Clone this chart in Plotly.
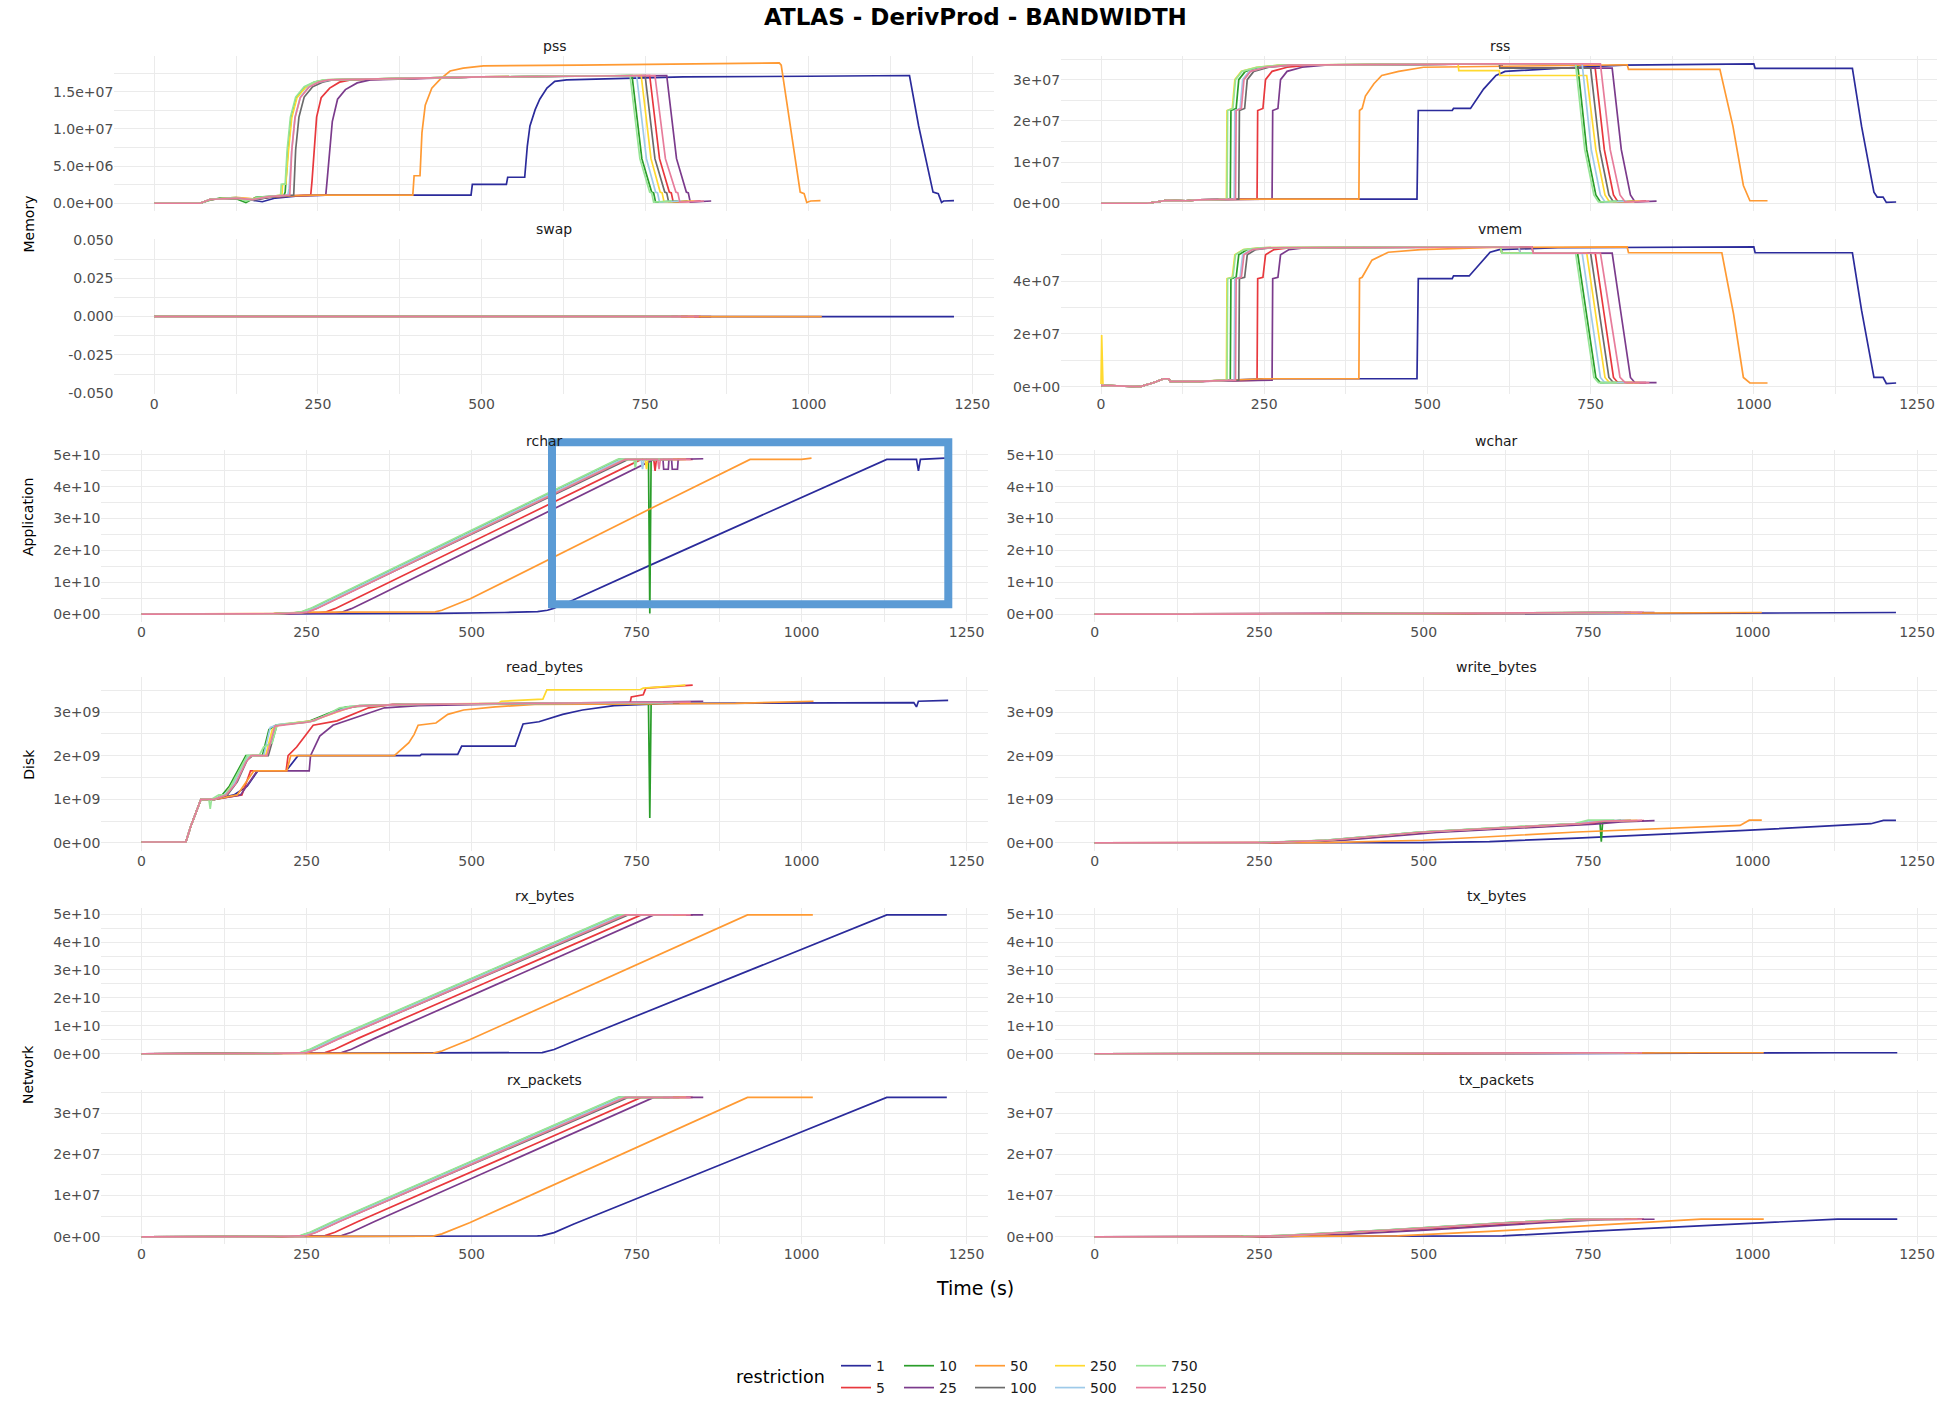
import plotly.graph_objects as go

W, H = 1937, 1404
Y_SCALE = 1.0055  # vertical calibration of pixel geometry

# ---------------- data ----------------
RESTRICTION = [1, 5, 10, 25, 50, 100, 250, 500, 750, 1250]
COLORS = ["#2B2B9B", "#E8383D", "#2A9D2A", "#7B3B8C", "#FF9A33",
          "#6B6B6B", "#FFD92F", "#9ECAE9", "#97E597", "#E77C9B"]
LEGEND_ROW = [1, 2, 1, 2, 1, 2, 1, 2, 1, 2]
LEGEND_COL_W = [18, 18, 26, 26, 35, 35, 36, 36, 36, 36]

X_TICKS = [0, 250, 500, 750, 1000, 1250]
X_MINOR = [125, 375, 625, 875, 1125]

# pss (x 1e6)
PSS = {
    1: [(0, 0), (70, 0), (85, 0.5), (100, 0.6), (125, 0.7), (150, 0.4), (165, 0.2), (185, 0.7), (220, 1.0), (260, 1.1),
        (484, 1.1), (486, 2.55), (538, 2.55), (540, 3.5), (566, 3.5), (570, 7.7), (574, 10.4), (582, 12.6), (589, 14.0),
        (600, 15.5), (612, 16.4), (630, 16.6), (707, 16.8), (808, 17.0), (1000, 17.1), (1150, 17.2), (1154, 17.2),
        (1168, 10.4), (1182, 5.0), (1190, 1.5), (1198, 1.3), (1203, 0.1), (1206, 0.3), (1222, 0.35)],
    5: [(0, 0), (70, 0), (85, 0.5), (100, 0.6), (125, 0.7), (150, 0.5), (175, 0.8), (210, 1.0), (239, 1.1), (241, 3.0),
        (244, 7.2), (248, 11.6), (255, 14.2), (268, 15.5), (283, 16.3), (300, 16.6), (500, 17.0), (700, 17.15),
        (757, 17.2), (772, 6.0), (787, 1.5), (790, 1.4), (793, 0.15), (835, 0.3)],
    10: [(0, 0), (70, 0), (85, 0.4), (100, 0.7), (125, 0.6), (140, 0.1), (155, 0.8), (185, 1.0), (198, 1.05), (200, 1.5),
         (204, 7.0), (209, 11.5), (217, 14.2), (230, 15.6), (245, 16.3), (262, 16.6), (500, 17.0), (700, 17.15),
         (730, 17.2), (745, 6.0), (760, 1.5), (763, 1.4), (766, 0.15), (800, 0.3)],
    25: [(0, 0), (70, 0), (85, 0.5), (100, 0.6), (125, 0.7), (150, 0.4), (175, 0.8), (210, 1.0), (262, 1.1), (264, 3.0),
         (268, 7.2), (272, 11.0), (280, 14.0), (292, 15.3), (310, 16.2), (330, 16.6), (500, 17.0), (700, 17.15),
         (783, 17.2), (798, 6.0), (813, 1.5), (816, 1.4), (819, 0.15), (851, 0.3)],
    50: [(0, 0), (70, 0), (85, 0.5), (100, 0.6), (125, 0.8), (150, 0.6), (170, 0.8), (200, 1.0), (250, 1.1), (395, 1.1),
         (397, 3.7), (406, 3.7), (409, 9.5), (414, 13.2), (424, 15.5), (437, 16.7), (452, 17.8), (472, 18.2),
         (503, 18.5), (650, 18.6), (808, 18.8), (955, 18.9), (958, 18.6), (973, 9.5), (987, 1.5), (993, 1.3),
         (997, 0.1), (1003, 0.3), (1018, 0.35)],
    100: [(0, 0), (70, 0), (85, 0.5), (100, 0.6), (125, 0.7), (150, 0.4), (175, 0.8), (205, 1.05), (213, 1.1),
          (216, 7.2), (221, 11.6), (229, 14.3), (242, 15.7), (257, 16.3), (272, 16.6), (500, 17.0), (700, 17.15),
          (750, 17.2), (765, 6.0), (780, 1.5), (783, 1.4), (786, 0.15), (815, 0.3)],
    250: [(0, 0), (70, 0), (85, 0.5), (100, 0.6), (125, 0.7), (150, 0.6), (175, 0.9), (190, 1.05), (195, 1.1),
          (196, 2.5), (201, 2.6), (205, 7.0), (210, 11.5), (218, 14.2), (231, 15.6), (246, 16.3), (262, 16.6),
          (500, 17.0), (700, 17.15), (744, 17.2), (759, 6.0), (773, 1.5), (776, 1.4), (779, 0.15), (825, 0.3)],
    500: [(0, 0), (70, 0), (85, 0.5), (100, 0.6), (125, 0.7), (150, 0.5), (175, 0.9), (200, 1.05), (204, 1.1),
          (206, 2.0), (210, 7.2), (215, 11.6), (223, 14.3), (236, 15.7), (251, 16.3), (268, 16.6), (500, 17.0),
          (700, 17.15), (737, 17.2), (752, 6.0), (766, 1.5), (769, 1.4), (772, 0.15), (805, 0.3)],
    750: [(0, 0), (70, 0), (85, 0.5), (100, 0.6), (125, 0.8), (140, 0.3), (160, 0.8), (185, 1.0), (193, 1.05),
          (194, 2.55), (200, 2.6), (203, 7.2), (208, 11.6), (216, 14.3), (229, 15.7), (244, 16.3), (259, 16.6),
          (500, 17.0), (700, 17.15), (727, 17.2), (742, 6.0), (757, 1.5), (760, 1.4), (763, 0.15), (790, 0.3)],
    1250: [(0, 0), (70, 0), (85, 0.5), (100, 0.6), (125, 0.7), (150, 0.5), (175, 0.9), (200, 1.05), (207, 1.1),
           (210, 7.0), (215, 11.5), (223, 14.2), (236, 15.6), (251, 16.3), (266, 16.6), (500, 17.0), (700, 17.15),
           (765, 17.2), (781, 6.0), (797, 1.5), (800, 1.4), (803, 0.15), (840, 0.3)],
}

# rss (x 1e7)
RSS = {
    1: [(0, 0), (70, 0), (85, 0.03), (100, 0.07), (130, 0.06), (150, 0.08), (180, 0.09), (250, 0.1), (484, 0.1),
        (486, 2.25), (538, 2.25), (540, 2.3), (566, 2.3), (586, 2.77), (605, 3.1), (619, 3.2), (730, 3.3), (800, 3.35),
        (1000, 3.38), (1002, 3.27), (1151, 3.27), (1165, 1.87), (1184, 0.27), (1189, 0.15), (1198, 0.15),
        (1203, 0.02), (1218, 0.03)],
    5: [(0, 0), (70, 0), (85, 0.03), (100, 0.07), (130, 0.06), (150, 0.08), (180, 0.09), (239, 0.1), (240, 2.25),
        (248, 2.3), (252, 3.0), (262, 3.2), (285, 3.3), (320, 3.35), (600, 3.38), (612, 3.38), (613, 3.28),
        (757, 3.28), (771, 1.3), (785, 0.2), (792, 0.03), (835, 0.05)],
    10: [(0, 0), (70, 0), (85, 0.03), (100, 0.07), (130, 0.06), (150, 0.08), (180, 0.09), (198, 0.1), (199, 2.25),
         (207, 2.3), (211, 3.0), (221, 3.2), (244, 3.3), (279, 3.35), (600, 3.38), (730, 3.38), (744, 1.3),
         (758, 0.2), (765, 0.03), (800, 0.05)],
    25: [(0, 0), (70, 0), (85, 0.03), (100, 0.07), (130, 0.06), (150, 0.08), (180, 0.09), (262, 0.1), (263, 2.25),
         (271, 2.3), (275, 3.0), (285, 3.2), (308, 3.3), (343, 3.35), (600, 3.38), (614, 3.38), (615, 3.28),
         (783, 3.28), (797, 1.3), (811, 0.2), (818, 0.03), (851, 0.05)],
    50: [(0, 0), (70, 0), (85, 0.03), (100, 0.07), (130, 0.06), (150, 0.08), (180, 0.09), (250, 0.1), (395, 0.1),
         (396, 2.25), (400, 2.3), (405, 2.6), (418, 2.9), (430, 3.1), (456, 3.2), (494, 3.3), (806, 3.36),
         (808, 3.25), (948, 3.25), (968, 1.87), (984, 0.43), (994, 0.06), (1021, 0.06)],
    100: [(0, 0), (70, 0), (85, 0.03), (100, 0.07), (130, 0.06), (150, 0.08), (180, 0.09), (211, 0.1), (212, 2.25),
          (220, 2.3), (224, 3.0), (234, 3.2), (257, 3.3), (292, 3.35), (600, 3.38), (610, 3.38), (611, 3.28),
          (750, 3.28), (764, 1.3), (778, 0.2), (785, 0.03), (815, 0.05)],
    250: [(0, 0), (70, 0), (85, 0.03), (100, 0.07), (130, 0.06), (150, 0.08), (180, 0.09), (192, 0.1), (193, 2.25),
          (201, 2.3), (205, 3.0), (215, 3.2), (238, 3.3), (273, 3.35), (547, 3.38), (548, 3.22), (610, 3.22),
          (611, 3.1), (744, 3.1), (758, 1.3), (772, 0.2), (779, 0.03), (825, 0.05)],
    500: [(0, 0), (70, 0), (85, 0.03), (100, 0.07), (130, 0.06), (150, 0.08), (180, 0.09), (204, 0.1), (205, 2.25),
          (213, 2.3), (217, 3.0), (227, 3.2), (250, 3.3), (285, 3.35), (600, 3.38), (737, 3.38), (751, 1.3),
          (765, 0.2), (772, 0.03), (805, 0.05)],
    750: [(0, 0), (70, 0), (85, 0.03), (100, 0.07), (130, 0.06), (150, 0.08), (180, 0.09), (193, 0.1), (194, 2.25),
          (202, 2.3), (206, 3.0), (216, 3.2), (239, 3.3), (274, 3.35), (600, 3.38), (727, 3.38), (741, 1.3),
          (755, 0.2), (762, 0.03), (790, 0.05)],
    1250: [(0, 0), (70, 0), (85, 0.03), (100, 0.07), (130, 0.06), (150, 0.08), (180, 0.09), (206, 0.1), (207, 2.25),
           (215, 2.3), (219, 3.0), (229, 3.2), (252, 3.3), (287, 3.35), (600, 3.38), (765, 3.38), (780, 1.3),
           (795, 0.2), (803, 0.03), (840, 0.05)],
}

# swap (all zero)
SWAP = {
    1: [(0, 0), (1222, 0)], 5: [(0, 0), (835, 0)], 10: [(0, 0), (800, 0)], 25: [(0, 0), (851, 0)],
    50: [(0, 0), (1020, 0)], 100: [(0, 0), (815, 0)], 250: [(0, 0), (825, 0)], 500: [(0, 0), (805, 0)],
    750: [(0, 0), (790, 0)], 1250: [(0, 0), (832, 0)],
}

# vmem (x 1e7)
VMEM = {
    1: [(0, 0.05), (60, 0), (80, 0.15), (96, 0.3), (104, 0.3), (106, 0.2), (150, 0.2), (200, 0.25), (250, 0.3),
        (484, 0.3), (486, 4.1), (538, 4.1), (540, 4.2), (564, 4.2), (581, 4.7), (596, 5.1), (610, 5.2), (700, 5.27),
        (1000, 5.3), (1002, 5.08), (1151, 5.08), (1165, 2.9), (1184, 0.35), (1198, 0.35), (1203, 0.12),
        (1218, 0.14)],
    5: [(0, 0.05), (60, 0), (80, 0.15), (96, 0.3), (104, 0.3), (106, 0.2), (150, 0.2), (239, 0.25), (240, 4.1),
        (248, 4.15), (252, 5.0), (265, 5.2), (290, 5.27), (600, 5.3), (640, 5.3), (642, 5.07), (757, 5.07),
        (771, 2.7), (785, 0.35), (792, 0.15), (835, 0.15)],
    10: [(0, 0.05), (60, 0), (80, 0.15), (96, 0.3), (104, 0.3), (106, 0.2), (150, 0.2), (198, 0.25), (199, 4.1),
         (207, 4.15), (211, 5.0), (224, 5.2), (249, 5.27), (600, 5.3), (612, 5.3), (614, 5.07), (730, 5.07),
         (744, 2.7), (758, 0.35), (765, 0.15), (800, 0.15)],
    25: [(0, 0.05), (60, 0), (80, 0.15), (96, 0.3), (104, 0.3), (106, 0.2), (150, 0.2), (262, 0.25), (263, 4.1),
         (271, 4.15), (275, 5.0), (288, 5.2), (313, 5.27), (600, 5.3), (612, 5.3), (614, 5.07), (783, 5.07),
         (797, 2.7), (811, 0.35), (818, 0.15), (851, 0.15)],
    50: [(0, 0.05), (60, 0), (80, 0.15), (96, 0.3), (104, 0.3), (106, 0.2), (150, 0.2), (250, 0.3), (395, 0.3),
         (396, 4.1), (400, 4.15), (415, 4.8), (440, 5.1), (490, 5.2), (600, 5.28), (806, 5.3), (808, 5.08),
         (951, 5.08), (969, 2.75), (984, 0.35), (994, 0.14), (1021, 0.14)],
    100: [(0, 0.05), (60, 0), (80, 0.15), (96, 0.3), (104, 0.3), (106, 0.2), (150, 0.2), (211, 0.25), (212, 4.1),
          (220, 4.15), (224, 5.0), (237, 5.2), (262, 5.27), (600, 5.3), (660, 5.3), (662, 5.07), (750, 5.07),
          (764, 2.7), (778, 0.35), (785, 0.15), (815, 0.15)],
    250: [(0, 0.1), (1, 1.96), (3, 0.05), (60, 0), (80, 0.15), (96, 0.3), (104, 0.3), (106, 0.2), (150, 0.2),
          (192, 0.25), (193, 4.1), (201, 4.15), (205, 5.0), (218, 5.2), (243, 5.27), (600, 5.3), (612, 5.3),
          (614, 5.07), (744, 5.07), (758, 2.7), (772, 0.35), (779, 0.15), (825, 0.15)],
    500: [(0, 0.05), (60, 0), (80, 0.15), (96, 0.3), (104, 0.3), (106, 0.2), (150, 0.2), (204, 0.25), (205, 4.1),
          (213, 4.15), (217, 5.0), (230, 5.2), (255, 5.27), (600, 5.3), (640, 5.3), (642, 5.07), (737, 5.07),
          (751, 2.7), (765, 0.35), (772, 0.15), (805, 0.15)],
    750: [(0, 0.05), (60, 0), (80, 0.15), (96, 0.3), (104, 0.3), (106, 0.2), (150, 0.2), (193, 0.25), (194, 4.1),
          (202, 4.15), (206, 5.0), (219, 5.2), (244, 5.27), (600, 5.3), (612, 5.3), (614, 5.07), (727, 5.07),
          (741, 2.7), (755, 0.35), (762, 0.15), (790, 0.15)],
    1250: [(0, 0.05), (60, 0), (80, 0.15), (96, 0.3), (104, 0.3), (106, 0.2), (150, 0.2), (206, 0.25), (207, 4.1),
           (215, 4.15), (219, 5.0), (232, 5.2), (257, 5.27), (600, 5.3), (660, 5.3), (662, 5.07), (765, 5.07),
           (780, 2.7), (795, 0.35), (803, 0.15), (840, 0.15)],
}

# rchar (x 1e10)
RCHAR = {
    1: [(0, 0), (200, 0.005), (450, 0.02), (550, 0.05), (600, 0.08), (615, 0.12), (624, 0.18), (654, 0.44),
        (770, 1.53), (1129, 4.86), (1174, 4.86), (1177, 4.5), (1180, 4.86), (1217, 4.9)],
    5: [(0, 0), (200, 0.01), (268, 0.04), (278, 0.06), (293, 0.17), (328, 0.52), (757, 4.86), (776, 4.86),
        (778, 4.5), (780, 4.86), (835, 4.86)],
    10: [(0, 0), (200, 0.01), (232, 0.04), (242, 0.06), (257, 0.17), (292, 0.52), (723, 4.86), (768, 4.86),
         (770, 0.02), (772, 4.86), (800, 4.86)],
    25: [(0, 0), (200, 0.01), (293, 0.04), (303, 0.06), (318, 0.17), (353, 0.52), (776, 4.86), (790, 4.86),
         (791, 4.55), (798, 4.55), (799, 4.86), (803, 4.86), (804, 4.55), (812, 4.55), (813, 4.86), (851, 4.88)],
    50: [(0, 0), (200, 0.02), (260, 0.06), (445, 0.07), (455, 0.12), (498, 0.48), (770, 3.3), (922, 4.86),
         (1000, 4.86), (1015, 4.9)],
    100: [(0, 0), (200, 0.01), (239, 0.04), (249, 0.06), (264, 0.17), (299, 0.52), (737, 4.86), (815, 4.86)],
    250: [(0, 0), (200, 0.01), (237, 0.04), (247, 0.06), (262, 0.17), (297, 0.52), (730, 4.86), (763, 4.86),
          (765, 4.55), (767, 4.86), (825, 4.86)],
    500: [(0, 0), (200, 0.01), (235, 0.04), (245, 0.06), (260, 0.17), (295, 0.52), (727, 4.86), (757, 4.86),
          (759, 4.55), (761, 4.86), (805, 4.86)],
    750: [(0, 0), (200, 0.01), (230, 0.04), (240, 0.06), (255, 0.17), (290, 0.52), (721, 4.86), (746, 4.86),
          (748, 4.6), (750, 4.86), (790, 4.86)],
    1250: [(0, 0), (200, 0.01), (240, 0.04), (250, 0.06), (265, 0.17), (300, 0.52), (733, 4.86), (782, 4.86),
           (784, 4.55), (786, 4.86), (832, 4.86)],
}

# wchar (x 1e8)
WCHAR = {
    1: [(0, 0), (495, 0.05), (733, 1.1), (981, 2.8), (1218, 5.0)],
    5: [(0, 0), (280, 0.05), (520, 2.4), (760, 4.3), (835, 5.0)],
    10: [(0, 0), (250, 0.05), (495, 2.5), (733, 4.4), (800, 5.0)],
    25: [(0, 0), (280, 0.05), (520, 2.4), (760, 4.3), (851, 5.0)],
    50: [(0, 0), (350, 0.05), (733, 2.5), (981, 4.0), (1014, 5.0)],
    100: [(0, 0), (250, 0.05), (495, 2.5), (733, 4.4), (815, 5.0)],
    250: [(0, 0), (250, 0.05), (495, 2.5), (733, 4.4), (825, 5.0)],
    500: [(0, 0), (250, 0.05), (495, 2.5), (733, 4.4), (805, 5.0)],
    750: [(0, 0), (250, 0.05), (495, 2.5), (733, 4.4), (790, 5.0)],
    1250: [(0, 0), (250, 0.05), (495, 2.5), (733, 4.4), (832, 5.0)],
}

# read_bytes (x 1e9)
READ_BYTES = {
    1: [(0, 0.02), (67, 0.02), (75, 0.4), (82, 0.7), (90, 1.0), (110, 1.0), (140, 1.1), (160, 1.3), (176, 1.65),
        (219, 1.65), (237, 2.0), (422, 2.0), (424, 2.03), (479, 2.03), (485, 2.22), (566, 2.22), (578, 2.73),
        (602, 2.78), (638, 2.95), (668, 3.05), (716, 3.15), (800, 3.2), (1170, 3.22), (1174, 3.12), (1177, 3.25),
        (1222, 3.27)],
    5: [(0, 0.02), (67, 0.02), (75, 0.4), (82, 0.7), (90, 1.0), (110, 1.0), (152, 1.1), (165, 1.65), (219, 1.65),
        (222, 2.0), (235, 2.2), (260, 2.7), (296, 2.8), (344, 3.1), (380, 3.18), (600, 3.2), (740, 3.2), (742, 3.35),
        (760, 3.4), (764, 3.55), (825, 3.62), (835, 3.62)],
    10: [(0, 0.02), (67, 0.02), (75, 0.4), (82, 0.7), (90, 1.0), (112, 1.0), (122, 1.1), (133, 1.3), (148, 1.7),
         (158, 2.0), (183, 2.0), (193, 2.6), (203, 2.7), (250, 2.77), (288, 3.0), (310, 3.12), (400, 3.18),
         (600, 3.2), (768, 3.2), (770, 0.57), (772, 3.2), (800, 3.22)],
    25: [(0, 0.02), (67, 0.02), (75, 0.4), (82, 0.7), (90, 1.0), (110, 1.0), (150, 1.1), (175, 1.65), (254, 1.65),
         (256, 2.0), (270, 2.45), (290, 2.7), (320, 2.85), (368, 3.1), (420, 3.15), (600, 3.2), (851, 3.25)],
    50: [(0, 0.02), (67, 0.02), (75, 0.4), (82, 0.7), (90, 1.0), (110, 1.0), (145, 1.1), (170, 1.65), (220, 1.65),
         (226, 2.0), (383, 2.0), (405, 2.3), (413, 2.49), (419, 2.7), (446, 2.75), (464, 2.95), (488, 3.05),
         (536, 3.12), (596, 3.18), (900, 3.2), (1018, 3.25)],
    100: [(0, 0.02), (67, 0.02), (75, 0.4), (82, 0.7), (90, 1.0), (110, 1.0), (130, 1.1), (145, 1.4), (160, 1.9),
          (168, 2.0), (192, 2.0), (205, 2.7), (258, 2.8), (300, 3.05), (330, 3.15), (400, 3.18), (600, 3.2),
          (815, 3.22)],
    250: [(0, 0.02), (67, 0.02), (75, 0.4), (82, 0.7), (90, 1.0), (110, 1.0), (126, 1.1), (140, 1.4), (155, 1.85),
          (165, 2.0), (188, 2.0), (198, 2.6), (210, 2.72), (258, 2.8), (295, 3.0), (320, 3.13), (400, 3.18),
          (540, 3.2), (545, 3.25), (608, 3.3), (614, 3.51), (756, 3.52), (760, 3.55), (824, 3.62)],
    500: [(0, 0.02), (67, 0.02), (75, 0.4), (82, 0.7), (90, 1.0), (110, 1.0), (125, 1.1), (138, 1.3), (152, 1.75),
          (162, 2.0), (185, 2.0), (195, 2.65), (208, 2.72), (255, 2.78), (292, 3.0), (315, 3.13), (400, 3.18),
          (600, 3.2), (805, 3.22)],
    750: [(0, 0.02), (67, 0.02), (75, 0.4), (82, 0.7), (90, 1.0), (102, 1.0), (104, 0.78), (106, 1.0), (117, 1.1),
          (128, 1.1), (140, 1.45), (152, 1.8), (160, 2.0), (178, 2.0), (185, 2.2), (198, 2.3), (205, 2.7),
          (230, 2.75), (262, 2.8), (282, 2.95), (300, 3.1), (330, 3.15), (400, 3.18), (600, 3.2), (790, 3.22)],
    1250: [(0, 0.02), (67, 0.02), (75, 0.4), (82, 0.7), (90, 1.0), (110, 1.0), (128, 1.1), (142, 1.35), (158, 1.85),
           (166, 2.0), (190, 2.0), (202, 2.68), (256, 2.78), (298, 3.02), (326, 3.14), (400, 3.18), (600, 3.2),
           (832, 3.23)],
}

# write_bytes (x 1e8)
WRITE_BYTES = {
    1: [(0, 0), (495, 0.05), (600, 0.3), (733, 1.1), (981, 2.8), (1180, 4.4), (1199, 5.15), (1218, 5.15)],
    5: [(0, 0), (270, 0.05), (370, 0.6), (510, 2.45), (750, 4.35), (790, 4.9), (835, 5.1)],
    10: [(0, 0), (250, 0.05), (350, 0.6), (495, 2.5), (733, 4.4), (760, 5.0), (768, 4.7), (770, 0.3), (772, 4.7),
         (800, 5.15)],
    25: [(0, 0), (280, 0.05), (380, 0.6), (520, 2.4), (760, 4.3), (800, 4.8), (851, 5.1)],
    50: [(0, 0), (350, 0.05), (500, 0.6), (733, 2.5), (981, 4.0), (995, 5.2), (1014, 5.2)],
    100: [(0, 0), (255, 0.05), (355, 0.6), (500, 2.5), (740, 4.4), (770, 5.0), (815, 5.15)],
    250: [(0, 0), (252, 0.05), (352, 0.6), (497, 2.5), (735, 4.4), (765, 5.0), (825, 5.15)],
    500: [(0, 0), (250, 0.05), (350, 0.6), (495, 2.5), (733, 4.4), (760, 5.05), (805, 5.15)],
    750: [(0, 0), (248, 0.05), (348, 0.6), (493, 2.5), (730, 4.45), (750, 5.2), (790, 5.2)],
    1250: [(0, 0), (255, 0.05), (355, 0.6), (500, 2.5), (740, 4.4), (775, 5.0), (832, 5.15)],
}

# rx_bytes (x 1e10)
RX_BYTES = {
    1: [(0, 0), (450, 0.01), (600, 0.03), (607, 0.04), (625, 0.15), (655, 0.45), (1129, 4.97), (1220, 4.97)],
    5: [(0, 0), (200, 0.01), (278, 0.04), (293, 0.16), (328, 0.55), (757, 4.97), (835, 4.97)],
    10: [(0, 0), (200, 0.01), (242, 0.04), (257, 0.16), (292, 0.55), (723, 4.97), (800, 4.97)],
    25: [(0, 0), (200, 0.01), (303, 0.04), (318, 0.16), (353, 0.55), (776, 4.97), (851, 4.97)],
    50: [(0, 0), (300, 0.01), (442, 0.02), (455, 0.1), (497, 0.5), (918, 4.97), (1017, 4.97)],
    100: [(0, 0), (200, 0.01), (249, 0.04), (264, 0.16), (299, 0.55), (737, 4.97), (815, 4.97)],
    250: [(0, 0), (200, 0.01), (247, 0.04), (262, 0.16), (297, 0.55), (730, 4.97), (825, 4.97)],
    500: [(0, 0), (200, 0.01), (245, 0.04), (260, 0.16), (295, 0.55), (727, 4.97), (805, 4.97)],
    750: [(0, 0), (200, 0.01), (240, 0.04), (255, 0.16), (290, 0.55), (721, 4.97), (790, 4.97)],
    1250: [(0, 0), (200, 0.01), (250, 0.04), (265, 0.16), (300, 0.55), (733, 4.97), (832, 4.97)],
}

# tx_bytes (x 1e8)
TX_BYTES = {
    1: [(0, 0), (605, 0), (660, 0.2), (1129, 3.5), (1220, 3.6)],
    5: [(0, 0), (278, 0), (328, 0.2), (757, 3.4), (835, 3.5)],
    10: [(0, 0), (242, 0), (292, 0.2), (723, 3.4), (800, 3.5)],
    25: [(0, 0), (303, 0), (353, 0.2), (776, 3.4), (851, 3.5)],
    50: [(0, 0), (445, 0), (500, 0.2), (918, 3.5), (1017, 3.6)],
    100: [(0, 0), (249, 0), (299, 0.2), (737, 3.4), (815, 3.5)],
    250: [(0, 0), (247, 0), (297, 0.2), (730, 3.4), (825, 3.5)],
    500: [(0, 0), (245, 0), (295, 0.2), (727, 3.4), (805, 3.5)],
    750: [(0, 0), (240, 0), (290, 0.2), (721, 3.4), (790, 3.5)],
    1250: [(0, 0), (250, 0), (300, 0.2), (733, 3.4), (832, 3.5)],
}

# rx_packets (x 1e7)
RX_PACKETS = {
    1: [(0, 0), (450, 0.007), (600, 0.02), (607, 0.03), (625, 0.1), (655, 0.31), (1129, 3.38), (1220, 3.38)],
    5: [(0, 0), (200, 0.007), (278, 0.03), (293, 0.11), (328, 0.37), (757, 3.38), (835, 3.38)],
    10: [(0, 0), (200, 0.007), (242, 0.03), (257, 0.11), (292, 0.37), (723, 3.38), (800, 3.38)],
    25: [(0, 0), (200, 0.007), (303, 0.03), (318, 0.11), (353, 0.37), (776, 3.38), (851, 3.38)],
    50: [(0, 0), (300, 0.007), (442, 0.015), (455, 0.07), (497, 0.34), (918, 3.38), (1017, 3.38)],
    100: [(0, 0), (200, 0.007), (249, 0.03), (264, 0.11), (299, 0.37), (737, 3.38), (815, 3.38)],
    250: [(0, 0), (200, 0.007), (247, 0.03), (262, 0.11), (297, 0.37), (730, 3.38), (825, 3.38)],
    500: [(0, 0), (200, 0.007), (245, 0.03), (260, 0.11), (295, 0.37), (727, 3.38), (805, 3.38)],
    750: [(0, 0), (200, 0.007), (240, 0.03), (255, 0.11), (290, 0.37), (721, 3.38), (790, 3.38)],
    1250: [(0, 0), (200, 0.007), (250, 0.03), (265, 0.11), (300, 0.37), (733, 3.38), (832, 3.38)],
}

# tx_packets (x 1e6)
TX_PACKETS = {
    1: [(0, 0), (560, 0.02), (620, 0.2), (750, 1.3), (1000, 3.2), (1129, 4.3), (1220, 4.3)],
    5: [(0, 0), (258, 0.02), (318, 0.3), (478, 1.6), (658, 3.4), (757, 4.2), (835, 4.25)],
    10: [(0, 0), (222, 0.02), (282, 0.3), (442, 1.6), (622, 3.4), (723, 4.2), (800, 4.25)],
    25: [(0, 0), (283, 0.02), (343, 0.3), (503, 1.6), (683, 3.4), (776, 4.2), (851, 4.25)],
    50: [(0, 0), (400, 0.02), (460, 0.2), (600, 1.3), (800, 3.2), (922, 4.3), (1017, 4.3)],
    100: [(0, 0), (229, 0.02), (289, 0.3), (449, 1.6), (629, 3.4), (737, 4.2), (815, 4.25)],
    250: [(0, 0), (227, 0.02), (287, 0.3), (447, 1.6), (627, 3.4), (730, 4.2), (825, 4.25)],
    500: [(0, 0), (225, 0.02), (285, 0.3), (445, 1.6), (625, 3.4), (727, 4.2), (805, 4.25)],
    750: [(0, 0), (220, 0.02), (280, 0.3), (440, 1.6), (620, 3.4), (721, 4.2), (790, 4.25)],
    1250: [(0, 0), (230, 0.02), (290, 0.3), (450, 1.6), (630, 3.4), (733, 4.2), (832, 4.25)],
}

# y tick values / labels
PSS_TICKS = [0, 5e6, 1e7, 1.5e7]
PSS_TEXT = ["0.0e+00", "5.0e+06", "1.0e+07", "1.5e+07"]
PSS_MINOR = [2.5e6, 7.5e6, 1.25e7, 1.75e7]
RSS_TICKS = [0, 1e7, 2e7, 3e7]
RSS_TEXT = ["0e+00", "1e+07", "2e+07", "3e+07"]
RSS_MINOR = [0.5e7, 1.5e7, 2.5e7, 3.5e7]
SWAP_TICKS = [-0.05, -0.025, 0, 0.025, 0.05]
SWAP_TEXT = ["-0.050", "-0.025", "0.000", "0.025", "0.050"]
SWAP_MINOR = [-0.0375, -0.0125, 0.0125, 0.0375]
VMEM_TICKS = [0, 2e7, 4e7]
VMEM_TEXT = ["0e+00", "2e+07", "4e+07"]
VMEM_MINOR = [1e7, 3e7, 5e7]
E10_TICKS = [0, 1e10, 2e10, 3e10, 4e10, 5e10]
E10_TEXT = ["0e+00", "1e+10", "2e+10", "3e+10", "4e+10", "5e+10"]
E10_MINOR = [0.5e10, 1.5e10, 2.5e10, 3.5e10, 4.5e10]
E9_TICKS = [0, 1e9, 2e9, 3e9]
E9_TEXT = ["0e+00", "1e+09", "2e+09", "3e+09"]
E9_MINOR = [0.5e9, 1.5e9, 2.5e9, 3.5e9]
PK_TICKS = [0, 1e7, 2e7, 3e7]
PK_TEXT = ["0e+00", "1e+07", "2e+07", "3e+07"]
PK_MINOR = [0.5e7, 1.5e7, 2.5e7, 3.5e7]

# ---------------- layout (pixel geometry) ----------------
XGROUPS = {  # domain left, domain right (px), range min, range max, strip centre px
    "ML": (114.4, 993.9, -61, 1283, 554.2),
    "MR": (1061.2, 1937.0, -61, 1280.6, 1499.9),
    "OL": (101.3, 988.4, -61, 1283, 544.9),
    "OR": (1054.7, 1937.0, -61, 1280.4, 1496.7),
}

PANELS = [
    # strip, data, unit, xgroup, (top px, bottom px), yrange, ticks, text, minor, show x labels, strip y px
    ("pss", PSS, 1e6, "ML", (56.7, 211.7), (-0.99e6, 1.977e7), PSS_TICKS, PSS_TEXT, PSS_MINOR, False, 46.7),
    ("rss", RSS, 1e7, "MR", (56.7, 211.7), (-1.786e6, 3.563e7), RSS_TICKS, RSS_TEXT, RSS_MINOR, False, 46.7),
    ("swap", SWAP, 1, "ML", (240.5, 396.0), (-0.0505, 0.0505), SWAP_TICKS, SWAP_TEXT, SWAP_MINOR, True, 230.0),
    ("vmem", VMEM, 1e7, "MR", (240.5, 396.0), (-2.75e6, 5.593e7), VMEM_TICKS, VMEM_TEXT, VMEM_MINOR, True, 230.0),
    ("rchar", RCHAR, 1e10, "OL", (452.7, 625.0), (-0.24e10, 5.144e10), E10_TICKS, E10_TEXT, E10_MINOR, True, 443.0),
    ("wchar", WCHAR, 1e8, "OR", (452.7, 625.0), (-0.24e10, 5.144e10), E10_TICKS, E10_TEXT, E10_MINOR, True, 443.0),
    ("read_bytes", READ_BYTES, 1e9, "OL", (680.9, 855.2), (-0.18e9, 3.799e9), E9_TICKS, E9_TEXT, E9_MINOR, True, 670.5),
    ("write_bytes", WRITE_BYTES, 1e8, "OR", (680.9, 855.2), (-0.18e9, 3.799e9), E9_TICKS, E9_TEXT, E9_MINOR, True, 670.5),
    ("rx_bytes", RX_BYTES, 1e10, "OL", (912.8, 1066.3), (-0.249e10, 5.219e10), E10_TICKS, E10_TEXT, E10_MINOR, False, 901.0),
    ("tx_bytes", TX_BYTES, 1e8, "OR", (912.8, 1066.3), (-0.249e10, 5.219e10), E10_TICKS, E10_TEXT, E10_MINOR, False, 901.0),
    ("rx_packets", RX_PACKETS, 1e7, "OL", (1096.2, 1250.3), (-0.169e7, 3.55e7), PK_TICKS, PK_TEXT, PK_MINOR, True, 1085.7),
    ("tx_packets", TX_PACKETS, 1e6, "OR", (1096.2, 1250.3), (-0.169e7, 3.55e7), PK_TICKS, PK_TEXT, PK_MINOR, True, 1085.7),
]

ROW_LABELS = [("Memory", 225), ("Application", 520), ("Disk", 768), ("Network", 1080)]

FONT = "DejaVu Sans"
GRID = "#EBEBEB"
TICK_COLOR = "#4D4D4D"


def px_x(p):
    return p / W


def px_y(p):
    return 1 - (p * Y_SCALE) / H


fig = go.Figure()

for si, r in enumerate(RESTRICTION):
    for pi, panel in enumerate(PANELS):
        strip, data, unit = panel[0], panel[1], panel[2]
        pts = data[r]
        t = [p[0] for p in pts]
        v = [p[1] * unit for p in pts]
        idx = pi + 1
        fig.add_trace(go.Scatter(
            x=t, y=v, mode="lines",
            line=dict(color=COLORS[si], width=1.7),
            name=str(r),
            legendgroup=str(r),
            showlegend=(pi == 0),
            legend="legend" if LEGEND_ROW[si] == 1 else "legend2",
            legendwidth=LEGEND_COL_W[si],
            xaxis="x" if idx == 1 else f"x{idx}",
            yaxis="y" if idx == 1 else f"y{idx}",
            hoverinfo="skip",
        ))

layout = dict(
    width=W, height=H,
    margin=dict(l=0, r=0, t=0, b=0),
    paper_bgcolor="white", plot_bgcolor="white",
    font=dict(family=FONT, size=14, color=TICK_COLOR),
    showlegend=True,
)

annotations = []
for pi, panel in enumerate(PANELS):
    strip, data, unit, xg, (ytop, ybot), yr, ticks, text, minor, showx, strip_y = panel
    idx = pi + 1
    xl, xr, x0, x1, xc = XGROUPS[xg]
    xname = "xaxis" if idx == 1 else f"xaxis{idx}"
    yname = "yaxis" if idx == 1 else f"yaxis{idx}"
    layout[xname] = dict(
        domain=[px_x(xl), min(1.0, px_x(xr))], range=[x0, x1],
        anchor="y" if idx == 1 else f"y{idx}",
        tickmode="array", tickvals=X_TICKS, ticktext=[str(v) for v in X_TICKS],
        showticklabels=showx, ticks="", showline=False, zeroline=False,
        ticklabeloverflow="allow",
        showgrid=True, gridcolor=GRID, gridwidth=1.3,
        minor=dict(tickvals=X_MINOR, showgrid=True, gridcolor=GRID, gridwidth=0.6, ticks=""),
        tickfont=dict(family=FONT, size=14, color=TICK_COLOR),
        automargin=False, fixedrange=True,
    )
    layout[yname] = dict(
        domain=[px_y(ybot), px_y(ytop)], range=list(yr),
        anchor="x" if idx == 1 else f"x{idx}",
        tickmode="array", tickvals=ticks, ticktext=text,
        ticks="", showline=False, zeroline=False,
        showgrid=True, gridcolor=GRID, gridwidth=1.3,
        minor=dict(tickvals=minor, showgrid=True, gridcolor=GRID, gridwidth=0.6, ticks=""),
        tickfont=dict(family=FONT, size=14, color=TICK_COLOR),
        automargin=False, fixedrange=True,
    )
    annotations.append(dict(
        text=strip, x=px_x(xc), y=px_y(strip_y), xref="paper", yref="paper",
        xanchor="center", yanchor="middle", showarrow=False,
        font=dict(family=FONT, size=14, color="#1A1A1A"),
    ))

for label, yc in ROW_LABELS:
    annotations.append(dict(
        text=label, x=px_x(28.7), y=px_y(yc), xref="paper", yref="paper",
        xanchor="center", yanchor="middle", showarrow=False, textangle=-90,
        font=dict(family=FONT, size=14, color="black"),
    ))

annotations.append(dict(
    text="<b>ATLAS - DerivProd - BANDWIDTH</b>", x=px_x(975.6), y=px_y(16.7),
    xref="paper", yref="paper", xanchor="center", yanchor="middle", showarrow=False,
    font=dict(family=FONT, size=23, color="black"),
))
annotations.append(dict(
    text="Time (s)", x=px_x(974.6), y=px_y(1295), xref="paper", yref="paper",
    xanchor="center", yanchor="middle", showarrow=False,
    font=dict(family=FONT, size=19, color="black"),
))
annotations.append(dict(
    text="restriction", x=px_x(780.5), y=px_y(1384.5), xref="paper", yref="paper",
    xanchor="center", yanchor="middle", showarrow=False,
    font=dict(family=FONT, size=17.5, color="black"),
))
layout["annotations"] = annotations

legend_common = dict(
    orientation="h", xanchor="left", yanchor="middle",
    x=px_x(836), bgcolor="rgba(0,0,0,0)", borderwidth=0,
    font=dict(family=FONT, size=14, color="#1A1A1A"),
    itemwidth=30, traceorder="normal", tracegroupgap=0,
    itemclick=False, itemdoubleclick=False,
)
layout["legend"] = dict(legend_common, y=px_y(1373.3))
layout["legend2"] = dict(legend_common, y=px_y(1395.3))

layout["shapes"] = [dict(
    type="rect", xref="paper", yref="paper",
    x0=px_x(552), x1=px_x(948.3), y0=px_y(607.5), y1=px_y(444.5),
    line=dict(color="#5B9BD5", width=8), fillcolor="rgba(0,0,0,0)", layer="above",
)]

fig.update_layout(**layout)
fig.write_html("out.html", config={"displayModeBar": False})
